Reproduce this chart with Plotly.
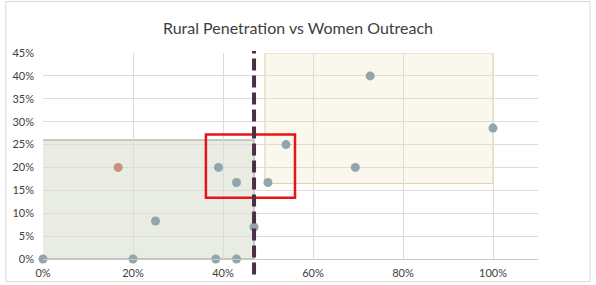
import plotly.graph_objects as go

# Data (fractions)
rural = [0.0, 0.20, 0.384, 0.43, 0.25, 0.39, 0.43, 0.469, 0.50, 0.54, 0.694, 0.727, 1.00]
women = [0.0, 0.0, 0.0, 0.0, 0.083, 0.20, 0.167, 0.07, 0.167, 0.25, 0.20, 0.40, 0.286]
red_x = [0.167]
red_y = [0.20]
threshold_x = 0.469
low_box = dict(x0=-0.011, x1=0.469, y0=0.0, y1=0.26)
high_box = dict(x0=0.493, x1=1.00, y0=0.165, y1=0.45)
focus_box = dict(x0=0.362, x1=0.56, y0=0.134, y1=0.272)
x_ticks = [0, 0.2, 0.4, 0.6, 0.8, 1.0]
y_ticks = [0, 0.05, 0.10, 0.15, 0.20, 0.25, 0.30, 0.35, 0.40, 0.45]

fig = go.Figure()
fig.add_trace(go.Scatter(x=rural, y=women, mode="markers",
                         marker=dict(size=9, color="#92a5ad"), cliponaxis=False,
                         showlegend=False))
fig.add_trace(go.Scatter(x=red_x, y=red_y, mode="markers",
                         marker=dict(size=9, color="#c98f80"), cliponaxis=False,
                         showlegend=False))

fig.add_shape(type="rect", xref="x", yref="y", layer="below", **low_box,
              fillcolor="rgba(214,220,204,0.55)", line=dict(color="#9aa28e", width=1))
fig.add_shape(type="rect", xref="x", yref="y", layer="below", **high_box,
              fillcolor="rgba(246,241,222,0.55)", line=dict(color="#e3d3a6", width=1))
fig.add_shape(type="rect", xref="x", yref="y", **focus_box,
              fillcolor="rgba(0,0,0,0)", line=dict(color="#e8141a", width=2.5))
fig.add_shape(type="line", xref="x", yref="paper", x0=threshold_x, x1=threshold_x,
              y0=-0.075, y1=1.01, line=dict(color="#4a2f45", width=4, dash="12px,5px"))
# chart border
fig.add_shape(type="rect", xref="paper", yref="paper", x0=-0.075, x1=1.105, y0=-0.11, y1=1.25,
              line=dict(color="#d8d8d8", width=1), fillcolor="rgba(0,0,0,0)", layer="below")

fig.update_layout(
    width=596, height=285,
    margin=dict(l=43, r=58, t=53, b=26),
    paper_bgcolor="white", plot_bgcolor="white",
    title=dict(text="Rural Penetration vs Women Outreach", x=0.5, xanchor="center",
               y=0.9, yanchor="middle",
               font=dict(family="Lato, Open Sans, sans-serif", size=16, color="#404040")),
    font=dict(family="Lato, Open Sans, sans-serif", size=11, color="#404040"),
    xaxis=dict(range=[0, 1.10], tickvals=x_ticks, tickformat=".0%", automargin=False,
               showgrid=True, gridcolor="#dcdcdc", zeroline=False,
               showline=True, linecolor="#c8c8c8", ticks="", ticklabelstandoff=4),
    yaxis=dict(range=[0, 0.45], tickvals=y_ticks, tickformat=".0%", automargin=False,
               showgrid=True, gridcolor="#dcdcdc", zeroline=False,
               showline=False, ticks="", ticklabelstandoff=8),
)

fig.write_html("out.html")
